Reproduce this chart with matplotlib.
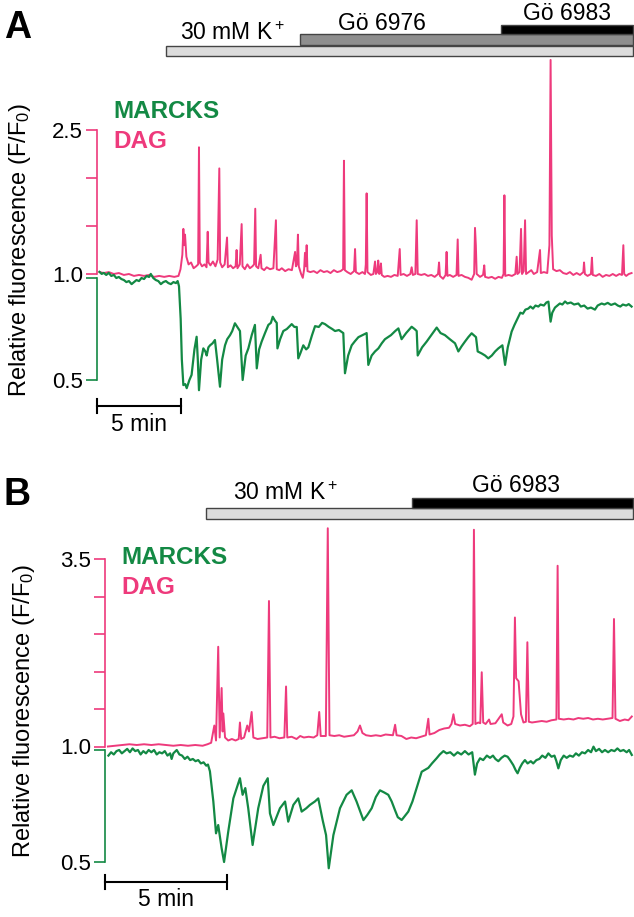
import numpy as np
import matplotlib
matplotlib.use("Agg")
import matplotlib.pyplot as plt
from matplotlib.patches import Rectangle
from matplotlib.transforms import blended_transform_factory

plt.rcParams["font.family"] = "Liberation Sans"
plt.rcParams["mathtext.fontset"] = "custom"
plt.rcParams["mathtext.rm"] = "Liberation Sans"
plt.rcParams["mathtext.default"] = "regular"

pink = "#EE3A7C"
green = "#138944"

# ---- data (time in min, F/F0) ----
# panel A
a_k_on, a_g6976_on, a_g6983_on, a_end = 4.11, 12.08, 24.05, 31.9
a_dag = [
    (0.15, 1.02), (0.4, 1.01), (0.7, 1.02), (1.0, 1.0), (1.3, 1.01), (1.6, 0.99), (1.9, 1.0), (2.2, 0.98),
    (2.5, 0.99), (2.8, 0.98), (3.1, 0.99), (3.4, 0.97), (3.7, 0.98), (4.0, 0.97), (4.3, 0.98), (4.6, 0.97),
    (4.85, 0.98), (4.97, 1.05), (5.08, 1.2), (5.14, 1.47), (5.19, 1.30), (5.24, 1.41), (5.32, 1.18),
    (5.45, 1.10), (5.6, 1.12), (5.75, 1.06), (5.9, 1.08), (6.02, 1.1), (6.07, 2.32), (6.12, 1.12),
    (6.25, 1.08), (6.4, 1.1), (6.52, 1.07), (6.59, 1.44), (6.64, 1.12), (6.75, 1.09), (6.9, 1.13),
    (7.05, 1.08), (7.18, 1.15), (7.28, 2.10), (7.33, 1.12), (7.45, 1.07), (7.6, 1.1), (7.74, 1.38),
    (7.79, 1.07), (7.95, 1.09), (8.1, 1.06), (8.25, 1.08), (8.31, 1.25), (8.36, 1.06), (8.5, 1.1),
    (8.61, 1.52), (8.66, 1.08), (8.8, 1.05), (8.95, 1.1), (9.1, 1.06), (9.25, 1.08), (9.35, 1.1),
    (9.42, 1.68), (9.47, 1.08), (9.6, 1.06), (9.74, 1.20), (9.79, 1.06), (9.95, 1.04), (10.1, 1.07),
    (10.3, 1.05), (10.5, 1.06), (10.65, 1.56), (10.70, 1.05), (10.85, 1.04), (11.0, 1.06), (11.2, 1.03),
    (11.4, 1.05), (11.6, 1.04), (11.79, 1.23), (11.84, 1.08), (11.9, 1.1), (11.96, 1.41), (12.01, 1.08),
    (12.15, 1.0), (12.25, 0.96), (12.33, 1.05), (12.38, 1.22), (12.43, 1.08), (12.48, 1.30), (12.53, 1.03),
    (12.7, 1.02), (12.9, 1.03), (13.1, 1.01), (13.3, 1.04), (13.5, 1.02), (13.7, 1.03), (13.9, 1.01),
    (14.1, 1.04), (14.3, 1.02), (14.5, 1.03), (14.65, 1.05), (14.70, 2.18), (14.75, 1.04), (14.9, 1.02),
    (15.1, 1.0), (15.3, 1.03), (15.36, 1.26), (15.41, 1.02), (15.6, 1.0), (15.8, 1.02), (15.95, 1.0),
    (16.0, 1.1), (16.05, 1.84), (16.1, 1.02), (16.3, 0.99), (16.45, 1.0), (16.55, 1.13), (16.6, 1.0),
    (16.68, 1.02), (16.74, 1.14), (16.8, 1.0), (16.85, 1.02), (16.9, 1.11), (16.95, 0.99), (17.1, 0.97),
    (17.3, 0.98), (17.5, 0.97), (17.7, 0.99), (17.9, 0.98), (18.02, 1.26), (18.07, 0.99), (18.25, 1.0),
    (18.45, 0.98), (18.65, 1.0), (18.73, 1.07), (18.8, 0.99), (18.95, 1.0), (19.03, 1.56), (19.09, 1.0),
    (19.3, 0.99), (19.5, 1.0), (19.7, 0.98), (19.9, 0.99), (20.1, 0.97), (20.3, 1.0), (20.36, 1.12),
    (20.41, 0.98), (20.6, 0.95), (20.75, 0.99), (20.81, 1.23), (20.86, 0.98), (21.0, 0.99), (21.2, 0.97),
    (21.4, 0.99), (21.47, 1.36), (21.52, 0.98), (21.7, 0.99), (21.9, 0.97), (22.1, 0.96), (22.3, 0.94),
    (22.45, 1.0), (22.50, 1.48), (22.55, 1.30), (22.6, 1.0), (22.8, 0.97), (22.98, 0.99), (23.05, 1.09),
    (23.1, 0.97), (23.3, 0.96), (23.5, 0.97), (23.7, 0.95), (23.9, 0.97), (24.1, 0.96), (24.2, 1.0),
    (24.25, 1.82), (24.3, 0.98), (24.5, 0.99), (24.7, 0.98), (24.9, 1.0), (24.98, 1.18), (25.03, 1.0),
    (25.15, 1.02), (25.24, 1.47), (25.3, 1.0), (25.4, 1.03), (25.48, 1.56), (25.54, 1.0), (25.7, 1.02),
    (25.85, 1.04), (26.0, 1.0), (26.2, 1.02), (26.37, 1.25), (26.42, 1.01), (26.6, 1.02), (26.8, 1.01),
    (26.93, 1.3), (27.0, 3.23), (27.07, 1.4), (27.15, 1.05), (27.35, 1.03), (27.55, 1.04), (27.75, 1.01),
    (27.95, 1.0), (28.15, 1.02), (28.35, 0.99), (28.55, 1.01), (28.75, 0.99), (28.95, 1.02), (28.99, 1.12),
    (29.04, 1.0), (29.2, 0.98), (29.4, 1.0), (29.46, 1.17), (29.51, 0.99), (29.7, 0.98), (29.9, 1.0),
    (30.1, 0.97), (30.3, 0.99), (30.5, 0.98), (30.7, 1.0), (30.9, 0.98), (31.1, 1.0), (31.25, 0.99),
    (31.33, 1.30), (31.38, 1.0), (31.5, 0.98), (31.65, 1.0), (31.82, 1.01),
]
a_marcks = [
    (0.15, 1.03), (0.28, 1.02), (0.4, 1.025), (0.55, 1.015), (0.7, 1.025), (0.85, 1.01), (1.0, 1.015),
    (1.15, 1.0), (1.3, 1.005), (1.45, 0.995), (1.6, 0.99), (1.75, 0.98), (1.9, 0.985), (2.06, 0.97),
    (2.2, 0.98), (2.35, 0.99), (2.5, 0.985), (2.65, 1.0), (2.8, 0.995), (2.95, 1.01), (3.1, 1.005),
    (3.2, 1.02), (3.35, 1.0), (3.5, 0.99), (3.65, 0.985), (3.8, 0.97), (3.95, 0.98), (4.1, 0.985),
    (4.25, 0.975), (4.4, 0.97), (4.55, 0.98), (4.7, 0.975), (4.8, 0.985), (4.88, 0.96),
    (4.98, 0.8), (5.05, 0.6), (5.14, 0.475), (5.25, 0.48), (5.34, 0.46), (5.5, 0.5), (5.63, 0.525),
    (5.8, 0.65), (5.93, 0.712), (6.0, 0.6), (6.07, 0.45), (6.2, 0.6), (6.33, 0.655), (6.45, 0.64),
    (6.53, 0.62), (6.63, 0.66), (6.73, 0.67), (6.88, 0.68), (7.02, 0.696), (7.15, 0.6), (7.32, 0.467),
    (7.45, 0.6), (7.62, 0.67), (7.75, 0.7), (7.92, 0.72), (8.05, 0.74), (8.21, 0.778), (8.35, 0.76),
    (8.51, 0.74), (8.67, 0.50), (8.85, 0.62), (9.01, 0.655), (9.21, 0.72), (9.40, 0.77), (9.51, 0.557),
    (9.65, 0.65), (9.80, 0.688), (10.0, 0.73), (10.20, 0.77), (10.35, 0.78), (10.46, 0.81), (10.6, 0.79),
    (10.70, 0.78), (10.74, 0.655), (10.9, 0.7), (11.09, 0.74), (11.3, 0.75), (11.59, 0.774), (11.75, 0.76),
    (11.89, 0.76), (11.98, 0.606), (12.1, 0.63), (12.28, 0.67), (12.45, 0.65), (12.58, 0.66), (12.8, 0.72),
    (12.98, 0.764), (13.2, 0.76), (13.4, 0.78), (13.57, 0.774), (13.8, 0.76), (14.0, 0.75), (14.17, 0.74),
    (14.4, 0.745), (14.66, 0.73), (14.76, 0.533), (14.95, 0.62), (15.16, 0.67), (15.35, 0.69), (15.56, 0.71),
    (15.8, 0.72), (16.05, 0.73), (16.15, 0.574), (16.35, 0.62), (16.55, 0.64), (16.75, 0.655), (16.95, 0.68),
    (17.14, 0.70), (17.5, 0.72), (17.75, 0.74), (17.94, 0.753), (18.13, 0.70), (18.4, 0.73), (18.73, 0.761),
    (18.9, 0.75), (19.03, 0.74), (19.09, 0.62), (19.35, 0.66), (19.62, 0.688), (19.9, 0.72), (20.22, 0.757),
    (20.45, 0.73), (20.71, 0.72), (21.0, 0.7), (21.31, 0.68), (21.51, 0.64), (21.7, 0.665), (21.90, 0.688),
    (22.1, 0.71), (22.30, 0.729), (22.56, 0.71), (22.66, 0.64), (22.9, 0.63), (23.1, 0.62), (23.29, 0.606),
    (23.5, 0.62), (23.7, 0.64), (23.89, 0.655), (24.13, 0.67), (24.29, 0.574), (24.45, 0.66), (24.68, 0.737),
    (24.85, 0.77), (25.08, 0.81), (25.2, 0.83), (25.35, 0.825), (25.5, 0.845), (25.67, 0.85), (25.8, 0.86),
    (25.95, 0.85), (26.1, 0.865), (26.27, 0.86), (26.4, 0.87), (26.6, 0.865), (26.75, 0.88), (26.87, 0.884),
    (27.0, 0.786), (27.1, 0.83), (27.26, 0.855), (27.4, 0.865), (27.55, 0.875), (27.7, 0.87), (27.86, 0.885),
    (28.0, 0.875), (28.2, 0.88), (28.4, 0.87), (28.65, 0.875), (28.8, 0.86), (29.0, 0.865), (29.2, 0.85),
    (29.4, 0.855), (29.64, 0.845), (29.8, 0.865), (30.04, 0.875), (30.2, 0.87), (30.4, 0.878), (30.6, 0.868),
    (30.83, 0.875), (31.0, 0.865), (31.15, 0.86), (31.3, 0.87), (31.5, 0.865), (31.65, 0.872), (31.82, 0.86),
]

# panel B
b_k_on, b_g6983_on, b_end = 4.14, 12.58, 21.64
b_dag = [
    (0.12, 1.0), (0.4, 1.01), (0.7, 1.02), (1.0, 1.03), (1.3, 1.02), (1.6, 1.03), (1.9, 1.02), (2.2, 1.03),
    (2.5, 1.02), (2.8, 1.01), (3.1, 1.02), (3.4, 1.01), (3.7, 1.02), (4.0, 1.01), (4.2, 1.03), (4.35, 1.05),
    (4.48, 1.28), (4.55, 1.08), (4.64, 2.33), (4.70, 1.12), (4.78, 1.78), (4.82, 1.2), (4.85, 1.44),
    (4.92, 1.12), (5.05, 1.08), (5.2, 1.1), (5.35, 1.08), (5.48, 1.1), (5.53, 1.32), (5.58, 1.1), (5.7, 1.12),
    (5.83, 1.28), (5.9, 1.2), (6.01, 1.46), (6.08, 1.12), (6.25, 1.1), (6.45, 1.11), (6.65, 1.12),
    (6.72, 2.94), (6.78, 1.12), (6.95, 1.13), (7.15, 1.11), (7.35, 1.12), (7.42, 1.80), (7.47, 1.12),
    (7.65, 1.13), (7.85, 1.1), (8.0, 1.14), (8.15, 1.12), (8.35, 1.13), (8.55, 1.12), (8.7, 1.15),
    (8.78, 1.46), (8.84, 1.14), (9.05, 1.14), (9.13, 3.91), (9.2, 1.15), (9.4, 1.14), (9.6, 1.15),
    (9.8, 1.13), (10.0, 1.14), (10.2, 1.15), (10.35, 1.2), (10.45, 1.28), (10.55, 1.18), (10.7, 1.15),
    (10.9, 1.14), (11.1, 1.15), (11.3, 1.14), (11.5, 1.16), (11.8, 1.15), (11.89, 1.29), (11.95, 1.15),
    (12.15, 1.14), (12.35, 1.1), (12.55, 1.12), (12.75, 1.11), (12.95, 1.13), (13.15, 1.15), (13.25, 1.37),
    (13.3, 1.16), (13.5, 1.18), (13.7, 1.22), (13.9, 1.24), (14.1, 1.25), (14.2, 1.3), (14.28, 1.43),
    (14.35, 1.3), (14.55, 1.28), (14.75, 1.29), (14.95, 1.27), (15.07, 1.3), (15.12, 3.89), (15.18, 1.3),
    (15.3, 1.32), (15.38, 1.31), (15.44, 1.99), (15.5, 1.32), (15.6, 1.3), (15.74, 1.36), (15.8, 1.3),
    (16.0, 1.31), (16.26, 1.43), (16.32, 1.32), (16.5, 1.28), (16.65, 1.3), (16.74, 1.4), (16.80, 2.72),
    (16.85, 1.91), (16.95, 1.87), (17.05, 1.43), (17.15, 1.32), (17.25, 1.33), (17.31, 2.39), (17.37, 1.33),
    (17.5, 1.32), (17.7, 1.33), (17.9, 1.34), (18.1, 1.33), (18.3, 1.35), (18.5, 1.36), (18.55, 3.41),
    (18.6, 1.37), (18.8, 1.36), (19.0, 1.37), (19.2, 1.36), (19.4, 1.38), (19.6, 1.37), (19.8, 1.38),
    (20.0, 1.36), (20.2, 1.37), (20.4, 1.36), (20.6, 1.37), (20.8, 1.38), (20.86, 2.70), (20.92, 1.37),
    (21.1, 1.34), (21.3, 1.36), (21.45, 1.35), (21.59, 1.4),
]
b_marcks = [
    (0.14, 0.975), (0.25, 0.99), (0.36, 0.98), (0.47, 0.995), (0.58, 1.0), (0.69, 0.985), (0.8, 0.995),
    (0.91, 1.005), (1.02, 0.99), (1.13, 1.007), (1.24, 0.995), (1.35, 1.0), (1.46, 0.98), (1.57, 0.995),
    (1.68, 0.985), (1.79, 1.0), (1.9, 0.99), (2.01, 1.0), (2.12, 0.98), (2.23, 0.99), (2.34, 0.985),
    (2.45, 0.995), (2.56, 0.975), (2.67, 0.985), (2.73, 0.96), (2.8, 0.985), (2.94, 1.0), (3.05, 0.98),
    (3.16, 0.975), (3.27, 0.96), (3.38, 0.97), (3.49, 0.955), (3.6, 0.96), (3.71, 0.95), (3.82, 0.955),
    (3.93, 0.94), (4.04, 0.945), (4.15, 0.93), (4.22, 0.935), (4.30, 0.905),
    (4.44, 0.77), (4.55, 0.628), (4.64, 0.665), (4.78, 0.561), (4.88, 0.50), (5.05, 0.635), (5.26, 0.784),
    (5.53, 0.874), (5.64, 0.80), (5.75, 0.83), (5.87, 0.74), (6.05, 0.576), (6.28, 0.74), (6.49, 0.84),
    (6.67, 0.874), (6.76, 0.717), (6.90, 0.665), (7.17, 0.74), (7.38, 0.77), (7.51, 0.68), (7.72, 0.755),
    (7.92, 0.784), (8.06, 0.725), (8.25, 0.74), (8.40, 0.755), (8.6, 0.77), (8.74, 0.784), (8.92, 0.687),
    (9.06, 0.62), (9.17, 0.472), (9.36, 0.62), (9.63, 0.74), (9.90, 0.80), (10.11, 0.82), (10.31, 0.77),
    (10.59, 0.687), (10.75, 0.71), (10.93, 0.74), (11.1, 0.79), (11.27, 0.82), (11.45, 0.81), (11.61, 0.80),
    (11.75, 0.77), (11.89, 0.73), (12.0, 0.7), (12.16, 0.6875), (12.43, 0.725), (12.6, 0.77), (12.77, 0.83),
    (12.98, 0.903), (13.25, 0.92), (13.4, 0.94), (13.59, 0.963), (13.72, 0.98), (13.87, 0.995), (14.0, 0.985),
    (14.15, 0.99), (14.3, 0.975), (14.45, 0.99), (14.6, 0.98), (14.75, 0.995), (14.9, 0.98), (15.05, 0.99),
    (15.16, 0.89), (15.25, 0.94), (15.37, 0.963), (15.5, 0.955), (15.65, 0.975), (15.78, 0.965), (15.9, 0.975),
    (16.0, 0.96), (16.12, 0.95), (16.25, 0.965), (16.38, 0.975), (16.5, 0.97), (16.6, 0.955), (16.73, 0.933),
    (16.83, 0.91), (16.91, 0.896), (17.0, 0.92), (17.1, 0.94), (17.21, 0.955), (17.32, 0.94), (17.45, 0.95),
    (17.55, 0.94), (17.68, 0.955), (17.8, 0.96), (17.92, 0.975), (18.05, 0.965), (18.17, 0.985), (18.3, 0.97),
    (18.42, 0.975), (18.5, 0.95), (18.58, 0.918), (18.68, 0.955), (18.8, 0.975), (18.92, 0.965), (19.05, 0.975),
    (19.18, 0.97), (19.3, 0.985), (19.42, 0.975), (19.55, 0.99), (19.67, 0.985), (19.8, 1.0), (19.92, 0.99),
    (20.02, 1.015), (20.12, 0.995), (20.25, 1.005), (20.37, 0.99), (20.49, 1.0), (20.62, 0.99), (20.75, 1.0),
    (20.88, 0.995), (21.0, 1.007), (21.12, 0.995), (21.25, 1.0), (21.38, 0.99), (21.48, 1.0), (21.59, 0.978),
]

# ---- layout helpers (pixel positions of the 634x917 figure) ----
W, H = 634, 917
fig = plt.figure(figsize=(W / 100, H / 100), dpi=100)


def rect(l, t, r, b):
    return [l / W, 1 - b / H, (r - l) / W, (b - t) / H]


def lims(p1, v1, p2, v2, top, bot):
    s = (v2 - v1) / (p2 - p1)
    return v1 + (bot - p1) * s, v1 + (top - p1) * s


def fy(py):
    return 1 - py / H


def style_axis(ax, color, bounds, ticks, labels):
    for s in ["top", "right", "bottom"]:
        ax.spines[s].set_visible(False)
    ax.spines["left"].set_color(color)
    ax.spines["left"].set_linewidth(1.2)
    ax.spines["left"].set_bounds(*bounds)
    ax.set_xticks([])
    ax.set_yticks(ticks)
    ax.set_yticklabels(labels)
    ax.tick_params(axis="y", colors=color, labelcolor="black", length=8, width=1.2,
                   labelsize=16, pad=2)
    ax.patch.set_visible(False)


def panel(letter, l, t, b, px_per_min, g_anchor, p_anchor, p_ticks, dag, marcks,
          bars, labels, scale_y, leg_x, leg_y, ylab_x, ylab_y):
    xmax = (W - l) / px_per_min
    ax_p = fig.add_axes(rect(l, t, W, b))
    ax_g = fig.add_axes(rect(l, t, W, b))
    ax_p.set_ylim(*lims(*p_anchor, t, b))
    ax_g.set_ylim(*lims(*g_anchor, t, b))
    for ax in (ax_p, ax_g):
        ax.set_xlim(0, xmax)
    style_axis(ax_p, pink, (1.0, p_ticks[-1]), p_ticks,
               ["1.0"] + [""] * (len(p_ticks) - 2) + [f"{p_ticks[-1]:.1f}"])
    style_axis(ax_g, green, (0.5, 1.0), [0.5, 1.0], ["0.5", ""])

    d = np.array(dag)
    m = np.array(marcks)
    ax_p.plot(d[:, 0], d[:, 1], color=pink, lw=1.4, clip_on=False)
    ax_g.plot(m[:, 0], m[:, 1], color=green, lw=1.6, clip_on=False)

    tr = blended_transform_factory(ax_g.transData, fig.transFigure)
    # treatment bars
    for (x0, x1, y0, y1, fc) in bars:
        ax_g.add_patch(Rectangle((x0, fy(y1)), x1 - x0, (y1 - y0) / H, transform=tr,
                                 facecolor=fc, edgecolor="#444444", lw=1, clip_on=False))
    for (x, y, txt, ha) in labels:
        fig.text(x, fy(y), txt, transform=tr, ha=ha, va="center", fontsize=16.5)

    # 5 min scale bar
    ax_g.plot([0, 5], [fy(scale_y)] * 2, color="black", lw=1.5, transform=tr, clip_on=False)
    for x in (0, 5):
        ax_g.plot([x, x], [fy(scale_y - 7), fy(scale_y + 7)], color="black", lw=1.5,
                  transform=tr, clip_on=False)
    fig.text(2.5, fy(scale_y + 18), "5 min", transform=tr, ha="center", va="center", fontsize=16.5)

    fig.text(leg_x / W, fy(leg_y), "MARCKS", color=green, fontsize=17.5, fontweight="bold",
             va="center", ha="left")
    fig.text(leg_x / W, fy(leg_y + 29), "DAG", color=pink, fontsize=17.5, fontweight="bold",
             va="center", ha="left")
    fig.text(ylab_x / W, fy(ylab_y), "Relative fluorescence (F/F$_0$)", rotation=90,
             ha="center", va="center", fontsize=17)
    fig.text(letter[1] / W, fy(letter[2]), letter[0], fontsize=27, fontweight="bold",
             ha="left", va="center")


panel(("A", 4, 28), 97, 50, 400, 16.8, (278, 1.0, 380, 0.5), (274, 1.0, 130, 2.5),
      [1.0, 1.5, 2.0, 2.5], a_dag, a_marcks,
      bars=[(a_k_on, a_end, 46, 56, "#dcdcdc"),
            (a_g6976_on, a_end, 34, 45, "#8e8e8e"),
            (a_g6983_on, a_end, 25, 34, "black")],
      labels=[(a_k_on + 0.85, 34, "30 mM K$^+$", "left"),
              ((a_g6976_on + a_g6983_on) / 2 - 1.1, 23, "Gö 6976", "center"),
              ((a_g6983_on + a_end) / 2, 13, "Gö 6983", "center")],
      scale_y=406, leg_x=113, leg_y=112, ylab_x=20, ylab_y=250)

panel(("B", 3, 495), 105, 525, 875, 24.4, (750, 1.0, 862, 0.5), (746.5, 1.0, 559, 3.5),
      [1.0, 1.5, 2.0, 2.5, 3.0, 3.5], b_dag, b_marcks,
      bars=[(b_k_on, b_end, 508, 519, "#dcdcdc"),
            (b_g6983_on, b_end, 498, 508, "black")],
      labels=[(b_k_on + 1.1, 494, "30 mM K$^+$", "left"),
              ((b_g6983_on + b_end) / 2 - 0.25, 486, "Gö 6983", "center")],
      scale_y=882, leg_x=121, leg_y=558, ylab_x=24, ylab_y=711)

fig.savefig("out.png", dpi=100)
